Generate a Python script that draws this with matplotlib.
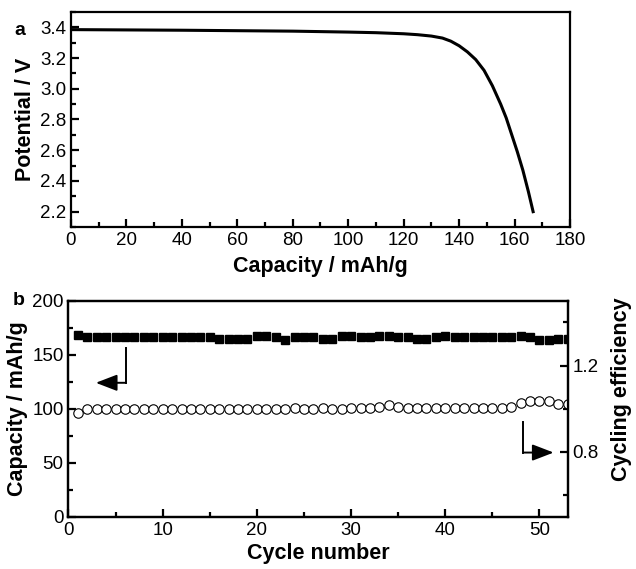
import matplotlib.pyplot as plt
from matplotlib.ticker import MultipleLocator

plt.rcParams['font.family'] = ['Liberation Sans', 'DejaVu Sans']
plt.rcParams['font.size'] = 13.5

# panel a: discharge curve
capacity = [0, 10, 20, 40, 60, 80, 100, 110, 120, 125, 130, 134, 137, 140, 143,
            146, 149, 152, 155, 157, 159, 161, 163, 165, 166.7]
potential = [3.385, 3.384, 3.383, 3.381, 3.378, 3.375, 3.369, 3.365, 3.358, 3.352,
             3.343, 3.33, 3.31, 3.28, 3.24, 3.19, 3.12, 3.02, 2.90, 2.81, 2.70,
             2.59, 2.47, 2.33, 2.20]

# panel b: cycling
cycles = list(range(1, 54))
cap_cycle = [168, 166.5, 166.5, 166.5, 166.5, 166.5, 166.5, 166.5, 166.5, 166.5,
             166, 166, 166, 166, 166, 165, 165, 165, 165, 167,
             167, 166, 164, 166, 166, 166, 165, 165, 167, 167,
             166, 166, 167, 167, 166, 166, 165, 165, 166, 167,
             166, 166, 166, 166, 166, 166, 166, 167, 166, 164,
             164, 165, 165]
efficiency = [0.98, 1.0, 1.0, 1.0, 1.0, 1.0, 1.0, 1.0, 1.0, 1.0,
              1.0, 1.0, 1.0, 1.0, 1.0, 1.0, 1.0, 1.0, 1.0, 1.0,
              1.0, 1.0, 1.0, 1.005, 1.0, 1.0, 1.005, 1.0, 1.0, 1.005,
              1.005, 1.005, 1.01, 1.015, 1.01, 1.005, 1.005, 1.005, 1.005, 1.005,
              1.005, 1.005, 1.005, 1.005, 1.005, 1.005, 1.01, 1.025, 1.035, 1.035,
              1.035, 1.02, 1.02]

fig = plt.figure(figsize=(6.36, 5.69), dpi=100)
ax1 = fig.add_axes([0.1116, 0.601, 0.7846, 0.378])
ax2 = fig.add_axes([0.1077, 0.0919, 0.7850, 0.3796])

def style(ax):
    for s in ax.spines.values():
        s.set_linewidth(1.6)
    ax.tick_params(which='major', direction='in', length=6, width=1.6)
    ax.tick_params(which='minor', direction='in', length=3.5, width=1.6)

# ---- a
style(ax1)
ax1.plot(capacity, potential, color='k', lw=2.2)
ax1.set_xlim(0, 180)
ax1.set_ylim(2.1, 3.5)
ax1.xaxis.set_major_locator(MultipleLocator(20))
ax1.xaxis.set_minor_locator(MultipleLocator(10))
ax1.yaxis.set_minor_locator(MultipleLocator(0.1))
ax1.set_yticks([2.2, 2.4, 2.6, 2.8, 3.0, 3.2, 3.4])
ax1.set_xlabel('Capacity / mAh/g', fontweight='bold', fontsize=15.5, labelpad=5)
ax1.set_ylabel('Potential / V', fontweight='bold', fontsize=15.5, labelpad=3)
ax1.text(0.022, 0.947, 'a', transform=fig.transFigure, fontweight='bold',
         fontsize=14, ha='left', va='center')

# ---- b
style(ax2)
ax2.plot(cycles, cap_cycle, 's', color='k', ms=5.6, mec='k')
ax2.set_xlim(0, 53)
ax2.set_ylim(0, 200)
ax2.xaxis.set_major_locator(MultipleLocator(10))
ax2.xaxis.set_minor_locator(MultipleLocator(5))
ax2.yaxis.set_major_locator(MultipleLocator(50))
ax2.yaxis.set_minor_locator(MultipleLocator(25))
ax2.set_xlabel('Cycle number', fontweight='bold', fontsize=15.5, labelpad=3)
ax2.set_ylabel('Capacity / mAh/g', fontweight='bold', fontsize=15.5, labelpad=3)
ax2.text(0.020, 0.472, 'b', transform=fig.transFigure, fontweight='bold',
         fontsize=14, ha='left', va='center')

ax3 = ax2.twinx()
for s in ax3.spines.values():
    s.set_linewidth(1.6)
ax3.tick_params(which='major', direction='in', length=6, width=1.6)
ax3.tick_params(which='minor', direction='in', length=3.5, width=1.6)
ax3.plot(cycles, efficiency, 'o', mfc='white', mec='k', mew=0.8, ms=6.8)
ax3.set_ylim(0.5, 1.5)
ax3.yaxis.set_minor_locator(MultipleLocator(0.2))
ax3.set_yticks([0.8, 1.2])
ax3.set_ylabel('Cycling efficiency', fontweight='bold', fontsize=15.5)
ax3.yaxis.set_label_coords(1.086, 0.59)

# arrows
arr = dict(arrowstyle='-|>,head_length=0.65,head_width=0.25', color='k', lw=1.4,
           shrinkA=0, shrinkB=0, mutation_scale=20)
ax2.plot([6.1, 6.1], [156, 124], color='k', lw=1.4)
ax2.annotate('', xy=(2.9, 124), xytext=(6.1, 124), arrowprops=arr)
ax3.plot([48.3, 48.3], [0.94, 0.797], color='k', lw=1.4)
ax3.annotate('', xy=(51.5, 0.797), xytext=(48.3, 0.797), arrowprops=arr)

fig.savefig('out.png', dpi=100)
